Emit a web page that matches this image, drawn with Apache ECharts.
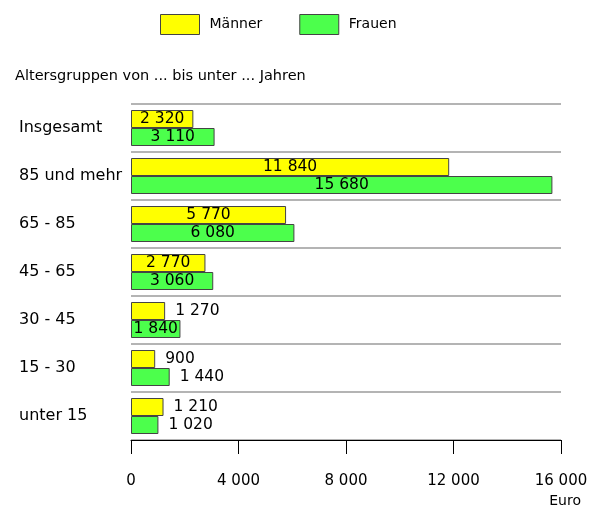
<!DOCTYPE html>
<html>
<head>
<meta charset="utf-8">
<script src="https://cdn.jsdelivr.net/npm/echarts@6/dist/echarts.min.js"></script>
<style>html,body{margin:0;padding:0;background:#fff}#c{width:597px;height:509px}</style>
</head>
<body>
<div id="c"></div>
<script>
const categories = ['Insgesamt', '85 und mehr', '65 - 85', '45 - 65', '30 - 45', '15 - 30', 'unter 15'];
const maenner = [2320, 11840, 5770, 2770, 1270, 900, 1210];
const frauen = [3110, 15680, 6080, 3060, 1840, 1440, 1020];
const xTicks = [0, 4000, 8000, 12000, 16000];

const FONT = 'DejaVu Sans';
const fmt = v => String(v).replace(/\B(?=(\d{3})+(?!\d))/g, ' ');
const mkData = arr => arr.map(v => ({ value: v, label: { position: v >= 1800 ? 'inside' : 'right' } }));

const chart = echarts.init(document.getElementById('c'), null, { renderer: 'canvas' });
const seriesCommon = {
  type: 'bar', barWidth: 18, barGap: '0%',
  label: { show: true, formatter: p => fmt(p.value), color: '#000', fontFamily: FONT, fontSize: 15.5, distance: 10 },
  emphasis: { disabled: true }
};
chart.setOption({
  animation: false,
  textStyle: { fontFamily: FONT },
  title: [
    { text: 'Altersgruppen von ... bis unter ... Jahren', left: 10, top: 64, padding: 5,
      textStyle: { fontFamily: FONT, fontSize: 14.5, fontWeight: 'normal', color: '#000' } },
    { text: 'Euro', right: 16, top: 494, padding: 0,
      textStyle: { fontFamily: FONT, fontSize: 14, fontWeight: 'normal', color: '#000' } }
  ],
  legend: {
    left: 160, top: 14, padding: 0, itemWidth: 39, itemHeight: 20, itemGap: 37, icon: 'rect',
    textStyle: { fontFamily: FONT, fontSize: 14, color: '#000', padding: [0, 0, 0, 5] },
    itemStyle: { borderColor: '#444', borderWidth: 1 }
  },
  grid: { left: 131, right: 36, top: 104, bottom: 69, containLabel: false },
  xAxis: {
    type: 'value', min: xTicks[0], max: xTicks[xTicks.length - 1], interval: xTicks[1] - xTicks[0],
    axisLine: { show: true, lineStyle: { color: '#000', width: 1 } },
    axisTick: { show: true, length: 14, lineStyle: { color: '#000' } },
    splitLine: { show: false },
    axisLabel: { formatter: v => fmt(v), color: '#000', fontFamily: FONT, fontSize: 15, margin: 34 }
  },
  yAxis: {
    type: 'category', data: categories, inverse: true,
    axisLine: { show: false }, axisTick: { show: false },
    splitLine: { show: true, interval: 0, lineStyle: { color: '#b4b4b4', width: 2 } },
    axisLabel: { align: 'left', margin: 112, color: '#000', fontFamily: FONT, fontSize: 16 }
  },
  series: [
    Object.assign({}, seriesCommon, { name: 'Männer', data: mkData(maenner),
      itemStyle: { color: '#ffff00', borderColor: '#444', borderWidth: 1 } }),
    Object.assign({}, seriesCommon, { name: 'Frauen', data: mkData(frauen),
      itemStyle: { color: '#4cff4c', borderColor: '#444', borderWidth: 1 } })
  ]
});
</script>
</body>
</html>
